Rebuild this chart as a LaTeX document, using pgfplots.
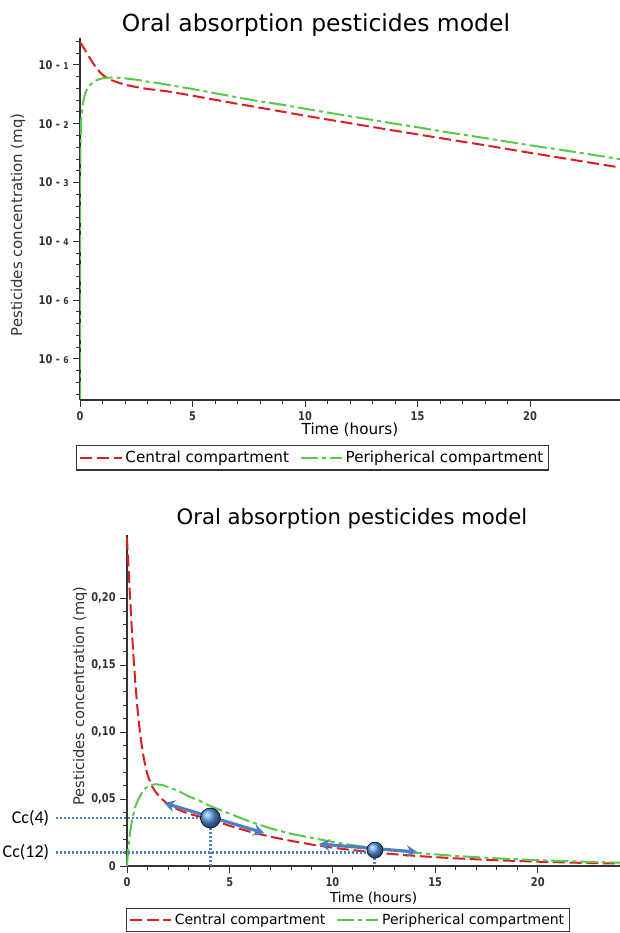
\documentclass[border=0pt]{standalone}
\usepackage{fontspec}
\setmainfont{DejaVu Sans}
\newfontfamily\tickfont[FakeStretch=0.82]{DejaVu Sans}
\newfontfamily\calfont{Carlito}
\usepackage{pgfplots}
\usepackage{pgfplotstable}
\pgfplotsset{compat=1.18}
\usetikzlibrary{arrows.meta}

\definecolor{cRed}{HTML}{DC1E1E}
\definecolor{cGreen}{HTML}{5AC84A}
\definecolor{annBlue}{HTML}{4F7FBF}
\definecolor{ballBlue}{HTML}{5596E6}
\definecolor{axGray}{HTML}{333333}

% time (h), central and peripheral compartment (mg)
\pgfplotstableread{
t      central  peripheral
0      0.245    2.1e-7
0.005  0.243    0.0008
0.02   0.238    0.004
0.05   0.230    0.011
0.1    0.215    0.019
0.2    0.186    0.030
0.3    0.160    0.038
0.4    0.138    0.044
0.5    0.119    0.048
0.6    0.104    0.051
0.7    0.092    0.054
0.8    0.082    0.056
0.9    0.074    0.058
1.0    0.068    0.059
1.2    0.060    0.0605
1.4    0.055    0.061
1.7    0.050    0.0605
2.0    0.046    0.059
2.5    0.042    0.056
3.0    0.039    0.052
3.5    0.037    0.049
4.0    0.035    0.045
5.0    0.030    0.039
6.0    0.0255   0.033
7.0    0.0218   0.028
8.0    0.0187   0.024
9.0    0.0160   0.021
10     0.0137   0.018
11     0.0118   0.0155
12     0.0102   0.0134
13     0.0088   0.0116
14     0.0076   0.0100
15     0.0066   0.0087
16     0.0057   0.0075
18     0.0043   0.0057
20     0.0032   0.0043
22     0.0024   0.0033
24     0.0018   0.0025
}\conc

\tikzset{
  central/.style={cRed,line width=1.5pt,dash pattern=on 9pt off 3.5pt},
  periph/.style={cGreen,line width=1.5pt,dash pattern=on 13pt off 3pt on 3pt off 3pt},
  guide/.style={annBlue,line width=2.2pt,dash pattern=on 1.5pt off 1.5pt},
  tangent/.style={annBlue,line width=2.4pt,{Stealth[length=8pt,width=9pt]}-{Stealth[length=8pt,width=9pt]}},
}
\pgfplotsset{
  every axis/.append style={
    scale only axis,
    axis x line*=bottom,
    axis y line*=left,
    axis line style={axGray,line width=0.8pt},
    tick style={axGray,line width=0.7pt},
    tick align=outside,
    major tick length=5pt,
    minor tick length=3pt,
    tick label style={font=\tickfont\bfseries\fontsize{9}{10}\selectfont,text=axGray},
    /pgf/number format/assume math mode=true,
    xmin=0, xmax=24,
    xtick={0,5,10,15,20},
    minor x tick num=4,
    legend columns=2,
    legend cell align=left,
    legend style={draw=axGray,line width=0.8pt,fill=white,inner sep=2pt,
      /tikz/every even column/.append style={column sep=6pt}},
    legend image code/.code={\draw[#1] (0pt,0pt) -- (31pt,0pt);},
  }
}

\begin{document}
\begin{tikzpicture}
\path[use as bounding box] (0,0) rectangle (465pt,699.75pt);

% ---------- top: log scale ----------
\begin{axis}[
  at={(60pt,399.75pt)}, anchor=south west,
  width=405pt, height=271.5pt,
  ymode=log,
  ymin=2.0e-7, ymax=0.287,
  ytick={1e-1,1e-2,1e-3,1e-4,1e-5,1e-6},
  yticklabels={10 - {\fontsize{7}{8}\selectfont 1},10 - {\fontsize{7}{8}\selectfont 2},
    10 - {\fontsize{7}{8}\selectfont 3},10 - {\fontsize{7}{8}\selectfont 4},
    10 - {\fontsize{7}{8}\selectfont 6},10 - {\fontsize{7}{8}\selectfont 6}},
  minor ytick={0.2512,0.1585,0.0631,0.03981,0.02512,0.01585,
    0.00631,0.003981,0.002512,0.001585,6.31e-4,3.981e-4,2.512e-4,1.585e-4,
    6.31e-5,3.981e-5,2.512e-5,1.585e-5,6.31e-6,3.981e-6,2.512e-6,1.585e-6,
    6.31e-7,3.981e-7,2.512e-7},
  xlabel={Time (hours)},
  xlabel style={font=\fontsize{11.4}{13}\selectfont,at={(axis description cs:0.5,-0.083)},anchor=center},
  legend style={font=\fontsize{11.4}{13}\selectfont,at={(axis description cs:0.431,-0.16)},anchor=center},
]
\addplot[central] table[x=t,y=central] {\conc};
\addplot[periph] table[x=t,y=peripheral] {\conc};
\legend{Central compartment,Peripherical compartment}
\end{axis}

\node[anchor=base,font=\fontsize{17.6}{20}\selectfont] at (237pt,675.75pt) {Oral absorption pesticides model};
\node[rotate=90,font=\fontsize{11.2}{13}\selectfont,text=axGray] at (13.5pt,531pt) {Pesticides concentration (mq)};

% ---------- bottom: linear scale ----------
\begin{axis}[
  at={(95.25pt,50.25pt)}, anchor=south west,
  width=369.75pt, height=248.25pt,
  ymin=0, ymax=0.247,
  clip=false,
  ytick={0,0.05,0.10,0.15,0.20},
  yticklabels={0,{0,05},{0,10},{0,15},{0,20}},
  minor y tick num=4,
  xlabel={Time (hours)},
  xlabel style={font=\fontsize{10.3}{12}\selectfont,at={(axis description cs:0.5,-0.097)},anchor=center},
  legend style={font=\fontsize{10.5}{12}\selectfont,at={(axis description cs:0.448,-0.163)},anchor=center},
]
\addplot[central] table[x=t,y=central] {\conc};
\addplot[periph] table[x=t,y=peripheral] {\conc};
\legend{Central compartment,Peripherical compartment}
% Cc(4) and Cc(12) read-offs
\addplot[guide,forget plot] coordinates {(-3.46,0.0358) (4.06,0.0358) (4.06,0)};
\addplot[guide,forget plot] coordinates {(-3.46,0.0104) (12.07,0.0104)};
\addplot[guide,forget plot] coordinates {(12.07,0.0119) (12.07,0)};
% tangents
\addplot[tangent,forget plot] coordinates {(1.81,0.047) (6.68,0.0246)};
\addplot[tangent,forget plot] coordinates {(9.35,0.0164) (14.13,0.0104)};
% points
\addplot[only marks,mark=ball,mark size=7.5pt,mark options={ball color=ballBlue},forget plot] coordinates {(4.06,0.0358)};
\addplot[only marks,mark=ball,mark size=6pt,mark options={ball color=ballBlue},forget plot] coordinates {(12.07,0.0119)};
\node[anchor=east,inner sep=2pt,font=\calfont\fontsize{13.5}{15}\selectfont] at (axis cs:-3.65,0.0358) {Cc(4)};
\node[anchor=east,inner sep=2pt,font=\calfont\fontsize{13.5}{15}\selectfont] at (axis cs:-3.65,0.0104) {Cc(12)};
\end{axis}

\node[anchor=base,font=\fontsize{15.9}{18}\selectfont] at (264pt,306pt) {Oral absorption pesticides model};
\node[rotate=90,font=\fontsize{11}{13}\selectfont,text=axGray] at (60pt,177.75pt) {Pesticides concentration (mq)};
\end{tikzpicture}
\end{document}
